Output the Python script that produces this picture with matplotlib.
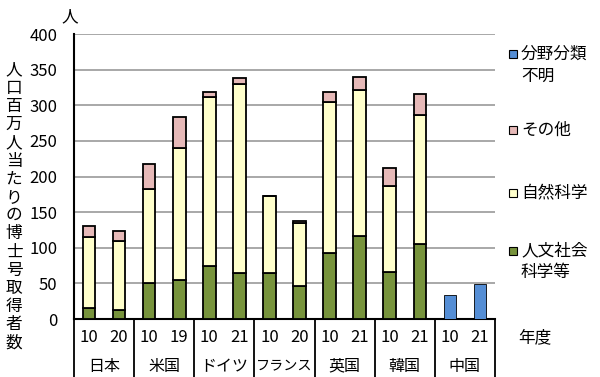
import numpy as np
import matplotlib.pyplot as plt
import matplotlib.transforms as mtransforms

plt.rcParams['font.family'] = ['Noto Sans CJK JP', 'DejaVu Sans']

countries = ['日本', '米国', 'ドイツ', 'フランス', '英国', '韓国', '中国']
years = ['10', '20', '10', '19', '10', '21', '10', '20', '10', '21', '10', '21', '10', '21']

# 人文社会科学等, 自然科学, その他, 分野分類不明
humanities = [16, 12, 51, 55, 75, 65, 65, 46, 92, 117, 66, 105, 0, 0]
natural = [99, 97, 131, 185, 236, 265, 107, 89, 212, 205, 121, 182, 0, 0]
other = [16, 14, 36, 44, 8, 8, 1, 2, 15, 17, 25, 29, 0, 0]
unknown = [0, 0, 0, 0, 0, 0, 0, 0, 0, 0, 0, 0, 34, 49]

c_hum = '#77933C'
c_nat = '#FFFFCC'
c_oth = '#E6B9B8'
c_unk = '#558ED5'
fs = 12

fig = plt.figure(figsize=(6, 3.77), dpi=100)
ax = fig.add_axes([0.1233, 0.1538, 0.7017, 0.756])

x = np.arange(len(years))
w = 0.42
hum = np.array(humanities)
nat = np.array(natural)
oth = np.array(other)
unk = np.array(unknown)

m = unk == 0
ax.bar(x[m], hum[m], w, color=c_hum, edgecolor='black', linewidth=1.3, zorder=3)
ax.bar(x[m], nat[m], w, bottom=hum[m], color=c_nat, edgecolor='black', linewidth=1.3, zorder=3)
ax.bar(x[m], oth[m], w, bottom=hum[m] + nat[m], color=c_oth, edgecolor='black', linewidth=1.3, zorder=3)
ax.bar(x[~m], unk[~m], w, color=c_unk, edgecolor='black', linewidth=0.6, zorder=3)

ax.set_xlim(-0.5, len(years) - 0.5)
ax.set_ylim(0, 400)
ax.set_yticks(range(0, 401, 50))
ax.tick_params(axis='y', length=0, pad=12, labelsize=fs)
ax.set_xticks(x)
ax.set_xticklabels(years, fontsize=fs)
ax.tick_params(axis='x', length=0, pad=7)
ax.grid(axis='y', color='#999999', linewidth=1.2, zorder=0)
for s in ['top', 'right']:
    ax.spines[s].set_visible(False)
ax.spines['left'].set_linewidth(1.5)
ax.spines['bottom'].set_linewidth(1.5)
ax.spines['left'].set_zorder(4)

# group separators below the axis
trans = mtransforms.blended_transform_factory(ax.transData, ax.transAxes)
for i in range(len(countries) + 1):
    ax.plot([i * 2 - 0.5, i * 2 - 0.5], [0, -0.205], transform=trans,
            color='black', linewidth=1.3, clip_on=False)
for i, c in enumerate(countries):
    size = 10.2 if len(c) > 3 else 11.5
    ax.text(i * 2 + 0.5, -0.166, c, transform=trans, ha='center', va='center', fontsize=size)

# y label (vertical characters)
label = '人口百万人当たりの博士号取得者数'
for i, ch in enumerate(label):
    fig.text(14 / 600, 1 - (70 + i * 18.2) / 377, ch, ha='center', va='center', fontsize=fs)
fig.text(70 / 600, 1 - 17 / 377, '人', ha='center', va='center', fontsize=fs)
fig.text(535 / 600, 1 - 338 / 377, '年度', ha='center', va='center', fontsize=fs)

# legend
leg = [(c_unk, '分野分類\n不明', 65), (c_oth, 'その他', 130), (c_nat, '自然科学', 193),
       (c_hum, '人文社会\n科学等', 262)]
for col, txt, yy in leg:
    lines = txt.split('\n')
    top = yy - (len(lines) - 1) * 11
    fig.patches.append(plt.Rectangle((509 / 600, 1 - (top + 4) / 377), 8 / 600, 8 / 377,
                                     transform=fig.transFigure, facecolor=col,
                                     edgecolor='black', linewidth=0.8))
    for j, ln in enumerate(lines):
        fig.text(521 / 600, 1 - (top + j * 22) / 377, ln, ha='left', va='center', fontsize=fs)

fig.savefig('out.png', dpi=100)
